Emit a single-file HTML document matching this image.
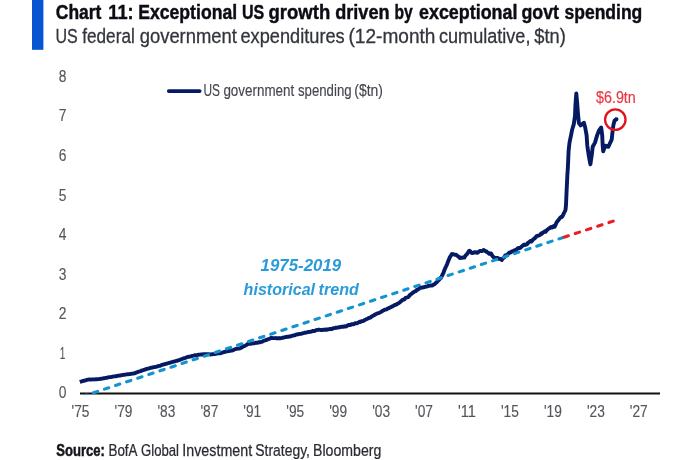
<!DOCTYPE html>
<html lang="en">
<head>
<meta charset="utf-8">
<title>Chart 11: Exceptional US growth driven by exceptional govt spending</title>
<style>
html,body{margin:0;padding:0;background:#fff;}
body{width:680px;height:460px;overflow:hidden;}
svg{display:block;}
text{font-family:"Liberation Sans","DejaVu Sans",sans-serif;}
.title{font-size:21px;font-weight:bold;fill:#0c0c14;stroke:#0c0c14;stroke-width:0.45px;}
.sub{font-size:20.4px;fill:#33353c;stroke:#33353c;stroke-width:0.3px;}
.ax{font-size:15.9px;fill:#55565c;stroke:#55565c;stroke-width:0.12px;}
.axx{font-size:15.9px;fill:#55565c;stroke:#55565c;stroke-width:0.15px;}
.leg{font-size:16.5px;fill:#45474f;stroke:#45474f;stroke-width:0.15px;}
.src{font-size:16.3px;fill:#2a2c33;stroke:#2a2c33;stroke-width:0.25px;}
.srcb{font-size:16.3px;font-weight:bold;fill:#15161c;stroke:#15161c;stroke-width:0.5px;}
.ann1{font-size:16.3px;font-weight:bold;font-style:italic;fill:#2a9bd9;}
.ann2{font-size:16.5px;font-weight:bold;font-style:italic;fill:#2a9bd9;}
.red{font-size:16px;fill:#e93a44;stroke:#e93a44;stroke-width:0.2px;}
</style>
</head>
<body>
<svg width="680" height="460" viewBox="0 0 680 460">
<rect x="0" y="0" width="680" height="460" fill="#ffffff"/>
<rect x="32" y="0" width="11.4" height="49.8" fill="#0855d2"/>
<text class="title" transform="translate(55.80,18.50) scale(0.8316,1)">Chart</text>
<text class="title" transform="translate(108.30,18.50) scale(0.8667,1)">11:</text>
<text class="title" transform="translate(138.20,18.50) scale(0.8399,1)">Exceptional</text>
<text class="title" transform="translate(242.00,18.50) scale(0.7628,1)">US</text>
<text class="title" transform="translate(268.50,18.50) scale(0.8829,1)">growth</text>
<text class="title" transform="translate(335.25,18.50) scale(0.8624,1)">driven</text>
<text class="title" transform="translate(394.50,18.50) scale(0.7447,1)">by</text>
<text class="title" transform="translate(419.00,18.50) scale(0.8521,1)">exceptional</text>
<text class="title" transform="translate(521.50,18.50) scale(0.8470,1)">govt</text>
<text class="title" transform="translate(564.50,18.50) scale(0.8337,1)">spending</text>
<text class="sub" transform="translate(55.40,43.45) scale(0.7870,1)">US</text>
<text class="sub" transform="translate(82.20,43.45) scale(0.8432,1)">federal</text>
<text class="sub" transform="translate(139.70,43.45) scale(0.9032,1)">government</text>
<text class="sub" transform="translate(240.50,43.45) scale(0.8925,1)">expenditures</text>
<text class="sub" transform="translate(348.50,43.45) scale(0.9357,1)">(12-month</text>
<text class="sub" transform="translate(439.00,43.45) scale(0.8868,1)">cumulative,</text>
<text class="sub" transform="translate(534.25,43.45) scale(0.8962,1)">$tn)</text>
<text class="ax" transform="translate(58.70,398.20) scale(0.8710,1)">0</text>
<text class="ax" transform="translate(59.80,358.66) scale(0.6335,1)">1</text>
<text class="ax" transform="translate(58.70,319.12) scale(0.8710,1)">2</text>
<text class="ax" transform="translate(58.70,279.58) scale(0.8710,1)">3</text>
<text class="ax" transform="translate(58.70,240.04) scale(0.8710,1)">4</text>
<text class="ax" transform="translate(58.70,200.50) scale(0.8710,1)">5</text>
<text class="ax" transform="translate(58.70,160.96) scale(0.8710,1)">6</text>
<text class="ax" transform="translate(58.70,121.42) scale(0.8710,1)">7</text>
<text class="ax" transform="translate(58.70,81.88) scale(0.8710,1)">8</text>

<text class="axx" transform="translate(71.60,417.00) scale(0.8640,1)">'75</text>
<text class="axx" transform="translate(114.54,417.00) scale(0.8640,1)">'79</text>
<text class="axx" transform="translate(157.48,417.00) scale(0.8640,1)">'83</text>
<text class="axx" transform="translate(200.42,417.00) scale(0.8640,1)">'87</text>
<text class="axx" transform="translate(243.36,417.00) scale(0.8640,1)">'91</text>
<text class="axx" transform="translate(286.30,417.00) scale(0.8640,1)">'95</text>
<text class="axx" transform="translate(329.24,417.00) scale(0.8640,1)">'99</text>
<text class="axx" transform="translate(372.18,417.00) scale(0.8640,1)">'03</text>
<text class="axx" transform="translate(415.12,417.00) scale(0.8640,1)">'07</text>
<text class="axx" transform="translate(458.06,417.00) scale(0.9160,1)">'11</text>
<text class="axx" transform="translate(501.00,417.00) scale(0.8640,1)">'15</text>
<text class="axx" transform="translate(543.94,417.00) scale(0.8640,1)">'19</text>
<text class="axx" transform="translate(586.88,417.00) scale(0.8640,1)">'23</text>
<text class="axx" transform="translate(629.82,417.00) scale(0.8640,1)">'27</text>

<line x1="80" y1="393.5" x2="660" y2="393.5" stroke="#111111" stroke-width="1.8"/>
<path d="M79.80,381.97 L80.69,381.67 L81.59,381.49 L82.48,381.22 L83.38,380.97 L84.27,380.76 L85.16,380.44 L86.06,380.23 L86.95,379.97 L87.85,379.72 L88.20,379.62 L88.74,379.54 L89.63,379.55 L90.53,379.61 L91.42,379.49 L92.32,379.36 L93.21,379.39 L94.10,379.44 L95.00,379.37 L95.89,379.24 L96.79,379.26 L97.68,379.13 L98.57,379.08 L99.47,379.05 L100.00,378.91 L100.36,378.82 L101.26,378.68 L102.15,378.63 L103.04,378.42 L103.94,378.24 L104.83,378.13 L105.73,377.93 L106.62,377.76 L107.51,377.53 L108.41,377.30 L109.30,377.16 L110.20,377.09 L111.09,376.95 L111.80,376.76 L111.98,376.76 L112.88,376.62 L113.77,376.43 L114.67,376.34 L115.56,376.25 L116.45,376.01 L117.35,375.85 L118.24,375.74 L119.14,375.64 L120.03,375.52 L120.92,375.28 L121.82,375.18 L122.00,375.10 L122.71,374.93 L123.61,374.90 L124.50,374.72 L125.39,374.56 L126.29,374.40 L127.18,374.32 L128.08,374.29 L128.97,374.15 L129.86,374.04 L130.76,373.86 L131.65,373.72 L132.55,373.63 L133.44,373.48 L133.80,373.40 L134.33,373.26 L135.23,373.01 L136.12,372.61 L137.02,372.25 L137.91,371.85 L138.80,371.55 L139.70,371.30 L140.59,371.03 L141.20,370.83 L141.49,370.62 L142.38,370.30 L143.27,370.11 L144.17,369.77 L145.06,369.50 L145.96,369.25 L146.85,368.93 L147.74,368.65 L148.64,368.52 L149.53,368.25 L150.43,367.91 L151.32,367.69 L151.50,367.75 L152.21,367.52 L153.11,367.27 L154.00,367.15 L154.90,367.03 L155.79,366.88 L156.68,366.68 L157.40,366.41 L157.58,366.30 L158.47,366.04 L159.37,365.87 L160.26,365.71 L161.15,365.30 L162.05,364.91 L162.94,364.66 L163.84,364.40 L164.73,364.19 L165.62,363.99 L166.20,363.77 L166.52,363.56 L167.41,363.32 L168.31,363.09 L169.20,362.84 L170.00,362.70 L170.09,362.69 L170.99,362.36 L171.88,362.11 L172.78,361.90 L173.67,361.54 L174.56,361.36 L175.46,361.24 L176.35,360.99 L177.25,360.75 L178.14,360.41 L178.80,360.16 L179.03,360.02 L179.93,359.77 L180.82,359.44 L181.72,359.04 L182.61,358.76 L183.50,358.47 L184.40,358.20 L185.29,357.86 L186.19,357.49 L187.08,357.21 L187.60,357.05 L187.97,357.00 L188.87,356.74 L189.76,356.64 L190.66,356.51 L191.55,356.13 L192.44,355.84 L193.34,355.65 L194.23,355.44 L195.00,355.19 L195.13,355.29 L196.02,355.36 L196.91,355.17 L197.81,354.97 L198.70,354.78 L199.60,354.61 L200.49,354.56 L201.38,354.49 L202.28,354.50 L203.17,354.36 L203.80,354.12 L204.07,354.31 L204.96,354.39 L205.85,354.22 L206.75,354.24 L207.64,354.19 L208.54,354.21 L209.43,354.42 L210.32,354.48 L211.22,354.42 L212.11,354.28 L212.60,354.22 L213.01,354.12 L213.90,354.08 L214.79,353.99 L215.69,353.86 L216.58,353.64 L217.48,353.37 L218.37,353.35 L219.26,353.37 L220.16,353.22 L221.05,353.03 L221.50,352.95 L221.95,352.82 L222.84,352.45 L223.73,352.20 L224.63,352.01 L225.52,351.67 L226.42,351.38 L227.31,351.23 L228.20,351.06 L229.10,350.95 L229.99,350.91 L230.89,350.61 L231.78,350.41 L231.80,350.53 L232.67,350.31 L233.57,349.90 L234.46,349.50 L235.36,349.23 L236.25,348.99 L237.14,348.75 L238.04,348.64 L238.93,348.58 L239.83,348.39 L240.60,348.07 L240.72,347.97 L241.61,347.57 L242.51,346.90 L243.40,346.41 L244.30,346.13 L245.19,345.67 L246.08,345.14 L246.98,344.56 L247.87,343.92 L247.90,344.01 L248.77,343.90 L249.66,343.81 L250.55,343.86 L251.45,343.61 L252.34,343.34 L253.24,343.39 L254.13,343.34 L255.02,342.99 L255.30,342.80 L255.92,342.67 L256.81,342.73 L257.71,342.70 L258.60,342.29 L259.49,342.15 L260.39,342.19 L261.28,341.95 L262.18,341.58 L262.60,341.48 L263.07,341.18 L263.96,340.63 L264.86,340.50 L265.75,340.24 L266.65,339.71 L267.00,339.65 L267.54,339.42 L268.43,339.13 L269.33,338.93 L270.22,338.42 L270.90,338.04 L271.12,338.06 L272.01,338.06 L272.90,338.16 L273.80,338.14 L274.69,338.10 L275.59,338.05 L276.48,338.24 L277.37,338.27 L278.27,338.14 L279.16,338.22 L279.70,338.37 L280.06,338.23 L280.95,338.13 L281.84,337.98 L282.74,337.73 L283.63,337.59 L284.53,337.26 L285.42,337.13 L286.31,337.02 L287.21,336.73 L288.10,336.82 L288.50,336.77 L289.00,336.56 L289.89,336.51 L290.78,336.29 L291.68,335.92 L292.57,335.69 L293.47,335.52 L294.36,335.39 L295.25,334.97 L296.15,334.69 L297.04,334.48 L297.94,334.16 L298.80,334.13 L298.83,334.18 L299.72,333.92 L300.62,333.82 L301.51,333.74 L302.41,333.41 L303.30,333.12 L304.19,332.94 L305.09,332.70 L305.98,332.58 L306.88,332.34 L307.77,332.09 L308.66,331.90 L309.10,331.97 L309.56,331.93 L310.45,331.73 L311.35,331.63 L312.24,331.17 L313.13,330.87 L314.03,330.94 L314.92,330.84 L315.82,330.31 L316.50,329.91 L316.71,330.03 L317.60,329.92 L318.50,329.80 L319.39,329.73 L320.29,329.86 L321.18,330.07 L322.07,330.10 L322.97,329.75 L323.86,329.67 L324.76,329.79 L325.65,329.48 L326.54,329.56 L326.80,329.85 L327.44,329.44 L328.33,329.34 L329.23,329.21 L330.12,328.89 L331.01,329.00 L331.91,328.97 L332.80,328.45 L333.70,328.16 L334.59,328.15 L335.48,327.95 L335.60,327.79 L336.38,327.66 L337.27,327.75 L338.17,327.42 L339.06,327.25 L339.95,327.25 L340.85,326.85 L341.74,326.68 L342.64,326.79 L343.53,326.70 L344.40,326.29 L344.42,326.56 L345.32,326.59 L346.21,326.36 L347.11,325.76 L348.00,325.24 L348.89,324.95 L349.79,324.98 L350.68,324.79 L351.58,324.26 L352.47,324.10 L353.20,324.28 L353.36,324.39 L354.26,323.79 L355.15,323.24 L356.05,323.32 L356.94,323.20 L357.83,322.86 L358.73,322.33 L359.62,321.78 L360.52,321.83 L360.60,321.94 L361.41,321.27 L362.30,321.17 L363.20,320.98 L364.09,320.53 L364.99,319.81 L365.88,319.50 L366.77,319.01 L367.40,318.80 L367.67,318.80 L368.56,318.10 L369.46,317.71 L370.35,317.57 L371.24,316.92 L372.14,316.08 L373.03,315.79 L373.93,315.35 L374.70,314.75 L374.82,314.66 L375.71,314.18 L376.61,313.76 L377.50,313.45 L378.40,313.05 L379.29,312.86 L380.18,312.36 L381.08,311.81 L381.97,311.27 L382.10,311.15 L382.87,310.66 L383.76,310.20 L384.65,309.73 L385.55,309.60 L386.44,309.41 L387.34,308.65 L388.23,308.21 L389.12,308.19 L389.40,307.78 L390.02,307.47 L390.91,307.13 L391.81,306.50 L392.70,306.28 L393.59,305.71 L394.49,305.09 L395.38,304.80 L396.28,304.61 L397.17,303.89 L398.06,303.40 L398.20,303.51 L398.96,302.92 L399.85,302.18 L400.75,301.45 L401.64,300.67 L402.53,300.01 L403.43,299.44 L404.10,299.43 L404.32,299.31 L405.22,298.33 L406.11,297.58 L407.00,297.39 L407.90,297.16 L408.79,296.40 L409.69,295.37 L410.00,294.91 L410.58,294.47 L411.47,293.91 L412.37,293.10 L413.26,292.43 L414.16,291.76 L415.05,291.45 L415.90,291.19 L415.94,290.88 L416.84,289.87 L417.73,289.66 L418.63,289.06 L419.52,288.17 L420.30,287.46 L420.41,287.51 L421.31,287.68 L422.20,287.63 L423.10,287.31 L423.99,287.23 L424.88,286.92 L425.78,286.69 L426.20,286.66 L426.67,286.64 L427.57,286.29 L428.46,285.79 L429.35,285.71 L430.25,285.55 L431.14,285.49 L432.04,285.39 L432.10,285.50 L432.93,285.02 L433.82,284.43 L434.72,283.99 L435.61,283.14 L436.50,282.20 L436.51,282.65 L437.40,281.45 L438.29,280.40 L439.19,279.72 L440.08,278.23 L440.90,277.57 L440.98,277.96 L441.87,276.01 L442.76,274.14 L443.66,272.47 L443.80,271.72 L444.55,269.74 L445.45,267.75 L446.34,265.80 L446.80,264.86 L447.23,263.78 L448.13,261.33 L449.02,259.18 L449.70,257.51 L449.92,257.13 L450.81,255.75 L451.70,254.27 L451.90,253.99 L452.60,254.24 L453.49,254.18 L454.39,254.61 L455.28,254.87 L456.17,254.75 L456.30,254.79 L457.07,255.61 L457.96,256.37 L458.86,256.74 L459.30,257.51 L459.75,258.01 L460.64,257.77 L461.54,257.63 L462.43,257.76 L463.33,257.34 L464.22,257.50 L464.40,257.55 L465.11,256.11 L466.01,254.95 L466.90,254.30 L467.40,253.51 L467.80,252.87 L468.69,251.83 L469.10,250.83 L469.58,250.78 L470.48,251.52 L471.37,252.50 L471.80,253.07 L472.27,253.00 L473.16,252.91 L474.05,252.43 L474.95,252.08 L475.84,252.22 L476.74,252.74 L477.60,252.70 L477.63,252.60 L478.52,251.90 L479.42,251.13 L480.31,250.97 L481.21,251.09 L482.10,251.02 L482.99,250.63 L483.50,250.04 L483.89,250.18 L484.78,250.81 L485.68,251.28 L486.50,251.42 L486.57,251.91 L487.46,252.25 L488.36,252.86 L489.25,253.82 L490.15,253.33 L491.04,253.43 L491.60,254.37 L491.93,255.32 L492.83,256.38 L493.72,257.21 L493.80,257.14 L494.62,257.95 L495.51,257.98 L496.40,257.92 L497.30,257.95 L498.19,258.13 L498.20,258.86 L499.09,258.64 L499.98,258.90 L500.87,259.39 L501.77,259.76 L501.90,259.92 L502.66,258.56 L503.56,257.97 L504.45,257.25 L504.90,256.01 L505.34,255.28 L506.24,255.08 L507.13,254.78 L508.03,253.92 L508.92,252.97 L509.81,252.38 L510.00,252.38 L510.71,252.51 L511.60,251.60 L512.50,251.18 L513.39,251.43 L514.28,250.27 L515.18,250.01 L515.90,250.09 L516.07,250.02 L516.97,249.10 L517.86,248.22 L518.75,247.87 L519.65,248.10 L520.54,247.75 L521.44,246.71 L521.80,246.40 L522.33,246.02 L523.22,245.18 L524.12,244.57 L525.01,244.95 L525.91,244.54 L526.80,244.30 L527.60,243.72 L527.69,243.05 L528.59,242.64 L529.48,241.82 L530.38,241.04 L531.27,241.17 L531.50,241.45 L532.16,240.68 L533.06,239.56 L533.95,238.88 L534.85,238.32 L535.00,237.76 L535.74,237.18 L536.63,236.07 L537.53,235.71 L538.00,235.76 L538.42,235.66 L539.32,235.43 L540.21,234.52 L541.10,233.52 L541.20,234.27 L542.00,233.60 L542.89,232.61 L543.79,232.15 L544.68,231.34 L545.00,231.59 L545.57,231.86 L546.47,230.55 L547.36,229.65 L548.26,228.92 L548.40,228.77 L549.15,228.52 L550.04,227.71 L550.94,227.10 L551.50,226.91 L551.83,227.61 L552.73,227.28 L553.62,226.03 L554.51,226.07 L554.60,226.81 L555.41,225.16 L556.30,223.04 L557.20,221.59 L557.60,220.99 L558.09,220.57 L558.98,219.39 L559.88,218.18 L560.77,217.23 L561.67,216.50 L561.80,217.06 L562.56,216.07 L563.45,214.17 L564.00,213.00 L564.35,212.39 L565.50,210.00 L566.00,205.00 L566.60,190.90 L567.35,175.40 L567.90,167.00 L568.60,150.90 L569.50,142.60 L571.00,135.40 L572.10,129.80 L573.80,124.10 L575.00,115.90 L575.40,105.60 L576.30,93.40 L577.20,103.50 L578.00,113.80 L578.90,123.10 L580.60,125.40 L583.90,122.80 L585.20,127.50 L586.60,135.40 L587.30,145.70 L588.80,156.00 L590.40,164.30 L591.90,154.00 L592.70,146.80 L595.00,142.60 L597.10,135.40 L599.10,130.30 L601.20,127.50 L602.20,135.40 L602.70,145.70 L603.20,151.40 L605.30,145.70 L608.40,146.80 L610.40,142.30 L611.70,139.60 L612.50,132.00 L613.40,125.00 L614.60,120.60 L616.90,118.90" fill="none" stroke="#061a64" stroke-width="3.9" stroke-linejoin="round" stroke-linecap="butt"/>
<clipPath id="plot"><rect x="70" y="60" width="600" height="334.5"/></clipPath>
<line x1="80.72" y1="397.0" x2="562.5" y2="237.7" stroke="#1394d0" stroke-width="3.1" stroke-linecap="round" stroke-dasharray="4.5 7.175" stroke-dashoffset="-1.65" clip-path="url(#plot)"/>
<line x1="562.5" y1="237.7" x2="615.2" y2="220.5" stroke="#ec1c24" stroke-width="3.1" stroke-linecap="round" stroke-dasharray="4.6 7.2" stroke-dashoffset="-1.6"/>
<circle cx="616.6" cy="119.1" r="1.9" fill="#061a64"/>
<circle cx="615.3" cy="119.6" r="10.25" fill="none" stroke="#e3121e" stroke-width="2.3"/>
<text class="red" transform="translate(596.00,102.90) scale(0.8948,1)">$6.9tn</text>
<line x1="168.9" y1="91.1" x2="199.6" y2="91.1" stroke="#061a64" stroke-width="3.9" stroke-linecap="round"/>
<text class="leg" transform="translate(203.40,95.80) scale(0.7243,1)">US</text>
<text class="leg" transform="translate(223.40,95.80) scale(0.8137,1)">government</text>
<text class="leg" transform="translate(298.00,95.80) scale(0.8003,1)">spending</text>
<text class="leg" transform="translate(354.30,95.80) scale(0.8460,1)">($tn)</text>
<text class="ann1" transform="translate(260.60,271.40) scale(1.0340,1)">1975-2019</text>
<text class="ann2" transform="translate(243.60,294.70) scale(0.9750,1)">historical</text>
<text class="ann2" transform="translate(318.60,294.70) scale(0.9776,1)">trend</text>
<text class="srcb" transform="translate(56.25,456.00) scale(0.8017,1)">Source:</text>
<text class="src" transform="translate(108.50,456.00) scale(0.8206,1)">BofA</text>
<text class="src" transform="translate(141.00,456.00) scale(0.8064,1)">Global</text>
<text class="src" transform="translate(182.30,456.00) scale(0.8768,1)">Investment</text>
<text class="src" transform="translate(255.30,456.00) scale(0.8543,1)">Strategy,</text>
<text class="src" transform="translate(313.00,456.00) scale(0.8665,1)">Bloomberg</text>
</svg>
</body>
</html>
